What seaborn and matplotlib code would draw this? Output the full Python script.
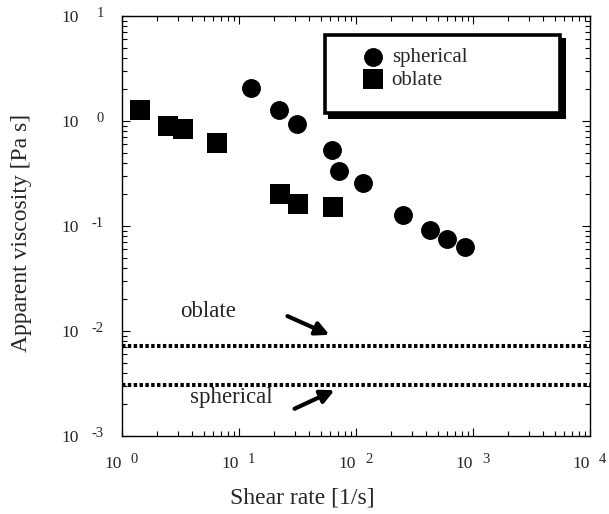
import matplotlib
matplotlib.use("Agg")
import matplotlib.pyplot as plt
import matplotlib.ticker as mticker
from matplotlib.transforms import offset_copy
from matplotlib.patches import Rectangle
import seaborn as sns
import pandas as pd

# ---- data ----
spherical_x = [12.7, 22.0, 31.3, 62.4, 71.6, 114.5, 251, 429, 600, 853]
spherical_y = [2.06, 1.27, 0.936, 0.53, 0.334, 0.257, 0.127, 0.0916, 0.0752, 0.063]
oblate_x = [1.43, 2.47, 3.32, 6.5, 22.4, 31.9, 63.5]
oblate_y = [1.27, 0.90, 0.84, 0.62, 0.20, 0.162, 0.152]
newtonian_labels = ["oblate", "spherical"]
newtonian_levels = [0.0072, 0.00306]
x_ticks = [1, 10, 100, 1000, 10000]
x_exps = ["0", "1", "2", "3", "4"]
y_ticks = [1e-3, 1e-2, 1e-1, 1, 10]
y_exps = ["-3", "-2", "-1", "0", "1"]

sns.set_style("ticks")
plt.rcParams["font.family"] = ["Liberation Serif", "DejaVu Serif"]
plt.rcParams["axes.linewidth"] = 1.0

fig = plt.figure(figsize=(6.09, 5.14), dpi=100)
ax = fig.add_axes([0.2003, 0.1518, 0.7685, 0.8171])

sph = pd.DataFrame({"x": spherical_x, "y": spherical_y})
obl = pd.DataFrame({"x": oblate_x, "y": oblate_y})
sns.scatterplot(data=sph, x="x", y="y", marker="o", s=185, color="black",
                edgecolor="black", linewidth=0, label="spherical", ax=ax, zorder=3)
sns.scatterplot(data=obl, x="x", y="y", marker="s", s=195, color="black",
                edgecolor="black", linewidth=0, label="oblate", ax=ax, zorder=3)

for lvl in newtonian_levels:
    ax.axhline(lvl, color="black", lw=2.9, linestyle=(0, (0.85, 0.6)),
               dash_capstyle="butt", zorder=2)

ax.set_xscale("log")
ax.set_yscale("log")
ax.set_xlim(1, 1e4)
ax.set_ylim(1e-3, 10)

ax.set_xticks(x_ticks)
ax.set_xticklabels(["10"] * len(x_ticks), ha="right")
ax.set_yticks(y_ticks)
ax.set_yticklabels(["10"] * len(y_ticks))
ax.xaxis.set_minor_locator(mticker.LogLocator(base=10, subs=range(2, 10), numticks=50))
ax.yaxis.set_minor_locator(mticker.LogLocator(base=10, subs=range(2, 10), numticks=50))
ax.xaxis.set_minor_formatter(mticker.NullFormatter())
ax.yaxis.set_minor_formatter(mticker.NullFormatter())
ax.tick_params(which="both", direction="in", top=True, right=True, color="black", width=0.8)
ax.tick_params(which="major", length=6)
ax.tick_params(which="minor", length=3.5)
ax.tick_params(axis="x", which="major", pad=14.5, labelsize=12.5)
ax.tick_params(axis="y", which="major", pad=31, labelsize=12.5)

# exponents of the tick labels
xt = offset_copy(ax.get_xaxis_transform(), fig=fig, x=9, y=-23.5, units="dots")
for t, e in zip(x_ticks, x_exps):
    ax.text(t, 0, e, transform=xt, ha="left", va="center", fontsize=10.5)
yt = offset_copy(ax.get_yaxis_transform(), fig=fig, x=-18, y=2, units="dots")
for t, e in zip(y_ticks, y_exps):
    ax.text(0, t, e, transform=yt, ha="right", va="center", fontsize=10.5)

ax.set_xlabel("Shear rate [1/s]", fontsize=17)
ax.set_ylabel("Apparent viscosity [Pa s]", fontsize=17)
ax.xaxis.set_label_coords(0.385, -0.122)
ax.yaxis.set_label_coords(-0.192, 0.483)

# annotations for the Newtonian levels
ax.text(5.43, 0.0152, newtonian_labels[0], fontsize=16.5, ha="center", va="center")
ax.annotate("", xy=(62.4, 0.00896), xytext=(24.7, 0.0142),
            arrowprops=dict(arrowstyle="-|>", lw=3, color="black", mutation_scale=20))
ax.text(8.54, 0.0023, newtonian_labels[1], fontsize=16.5, ha="center", va="center")
ax.annotate("", xy=(68.8, 0.0028), xytext=(28.4, 0.00177),
            arrowprops=dict(arrowstyle="-|>", lw=3, color="black", mutation_scale=20))

# legend with a boxed, shadowed frame
leg = ax.legend(loc="upper left", bbox_to_anchor=(0.514, 0.925), frameon=False,
                borderpad=0, borderaxespad=0, handlelength=1.0, handletextpad=0.4,
                labelspacing=0.15, fontsize=15)
leg.set_zorder(6)
ax.add_patch(Rectangle((0.4338 + 0.0085, 0.769 - 0.0095), 0.5021, 0.1858,
                       transform=ax.transAxes, facecolor="black", edgecolor="black",
                       lw=2.2, zorder=4))
ax.add_patch(Rectangle((0.4338, 0.769), 0.5021, 0.1858, transform=ax.transAxes,
                       facecolor="white", edgecolor="black", lw=2.6, zorder=4.5))

for s in ax.spines.values():
    s.set_color("black")
    s.set_linewidth(1.0)

fig.savefig("out.png", dpi=100, facecolor="white")
